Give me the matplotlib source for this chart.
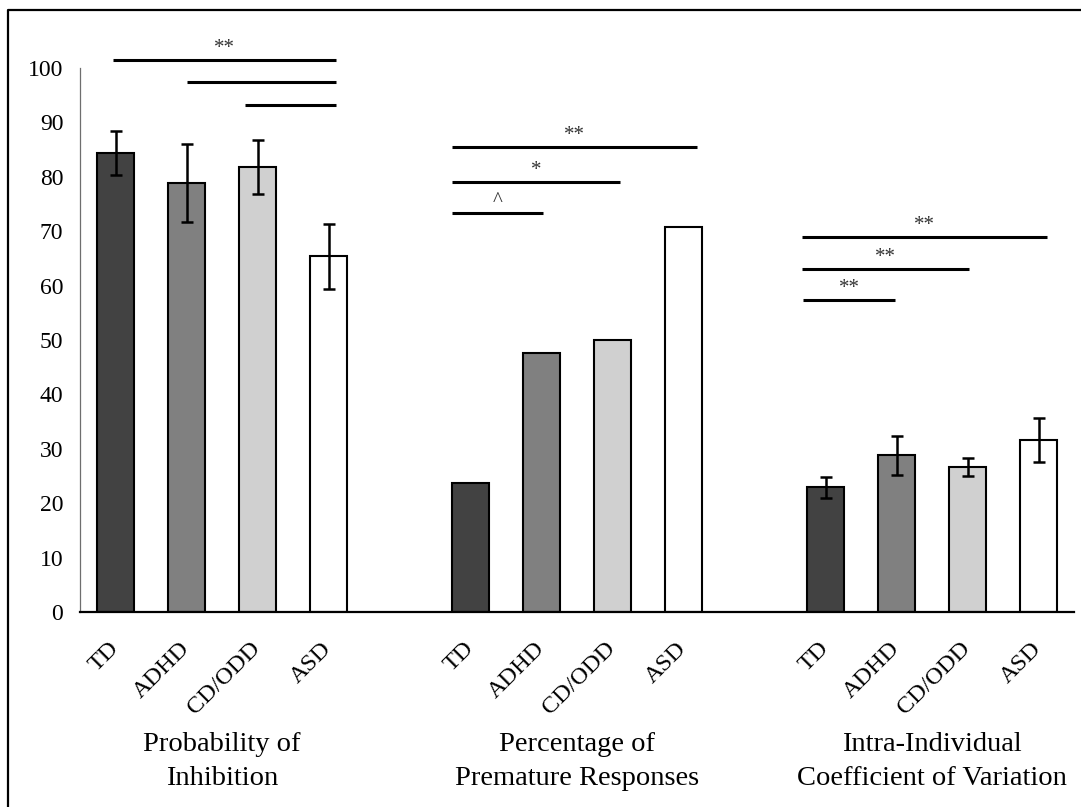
import numpy as np
import matplotlib
matplotlib.use("Agg")
import matplotlib.pyplot as plt
from matplotlib import transforms
from matplotlib.lines import Line2D

# ---------------------------------------------------------------------------
# Data
# ---------------------------------------------------------------------------
MEASURES = ["Probability of\nInhibition",
            "Percentage of\nPremature Responses",
            "Intra-Individual\nCoefficient of Variation"]
DIAGNOSES = ["TD", "ADHD", "CD/ODD", "ASD"]

PROB_INHIBITION = [84.4, 78.8, 81.8, 65.4]
PROB_INHIBITION_ERR = [4.1, 7.2, 5.0, 6.0]
PREMATURE_RESP = [23.8, 47.7, 50.0, 70.8]
ICV = [22.9, 28.8, 26.7, 31.6]
ICV_ERR = [2.0, 3.6, 1.7, 4.0]

# significance bars: (start, end, height, label) in bar-position units
SIG_START = [-0.04, 1.00, 1.83, 4.74, 4.74, 4.74, 9.67, 9.67, 9.69]
SIG_END = [3.11, 3.11, 3.11, 8.19, 7.10, 6.02, 13.12, 12.02, 10.98]
SIG_HEIGHT = [101.5, 97.4, 93.2, 85.5, 79.1, 73.3, 68.9, 63.1, 57.4]
SIG_LABEL = ["**", "", "", "**", "*", "^", "**", "**", "**"]

COLORS = ["#424242", "#808080", "#d0d0d0", "#ffffff"]

plt.rcParams["font.family"] = ["Liberation Serif", "DejaVu Serif"]

fig = plt.figure(figsize=(10.81, 8.07), dpi=100)
ax = fig.add_axes([80 / 1081, 195 / 807, 994 / 1081, 544 / 807])

values = [PROB_INHIBITION, PREMATURE_RESP, ICV]
errors = [PROB_INHIBITION_ERR, None, ICV_ERR]
positions, labels = [], []
for g, (vals, errs) in enumerate(zip(values, errors)):
    x = g * 5 + np.arange(len(DIAGNOSES))
    ax.bar(x, vals, width=0.51, color=COLORS, edgecolor="black",
           linewidth=1.5, zorder=2)
    if errs is not None:
        ax.errorbar(x, vals, yerr=errs, fmt="none", ecolor="black",
                    elinewidth=1.8, capsize=4.5, capthick=1.8, zorder=3)
    positions.extend(x)
    labels.extend(DIAGNOSES)

ax.set_xlim(-0.5, 13.5)
ax.set_ylim(0, 100)
ax.set_yticks(np.arange(0, 101, 10))
ax.tick_params(axis="y", length=0, pad=12, labelsize=17)
ax.set_xticks(positions)
ax.set_xticklabels(labels, rotation=45, ha="right", va="center",
                   rotation_mode="anchor", fontsize=17.5)
ax.tick_params(axis="x", length=0, pad=24)

for side in ["top", "right"]:
    ax.spines[side].set_visible(False)
ax.spines["left"].set_color("#6e6e6e")
ax.spines["left"].set_linewidth(0.9)
ax.spines["bottom"].set_linewidth(1.6)

# significance lines
for x0, x1, h, lab in zip(SIG_START, SIG_END, SIG_HEIGHT, SIG_LABEL):
    ax.plot([x0, x1], [h, h], color="black", linewidth=2.2,
            solid_capstyle="butt", clip_on=False)
    if lab:
        ax.text((x0 + x1) / 2, h + 0.4, lab, ha="center", va="bottom",
                fontsize=15, color="#333333", clip_on=False)

# measure (group) labels below the diagnosis labels
trans = transforms.blended_transform_factory(ax.transData, fig.transFigure)
for g, name in enumerate(MEASURES):
    ax.text(g * 5 + 1.5, 45.5 / 807, name, transform=trans, ha="center",
            va="center", multialignment="center", fontsize=20.5,
            linespacing=1.45)

# outer frame (only left and top visible in the reference crop)
fig.add_artist(Line2D([8 / 1081, 8 / 1081, 1.0], [0.0, 1 - 10 / 807, 1 - 10 / 807],
                      transform=fig.transFigure, color="black", linewidth=1.6))

fig.savefig("out.png", dpi=100)
